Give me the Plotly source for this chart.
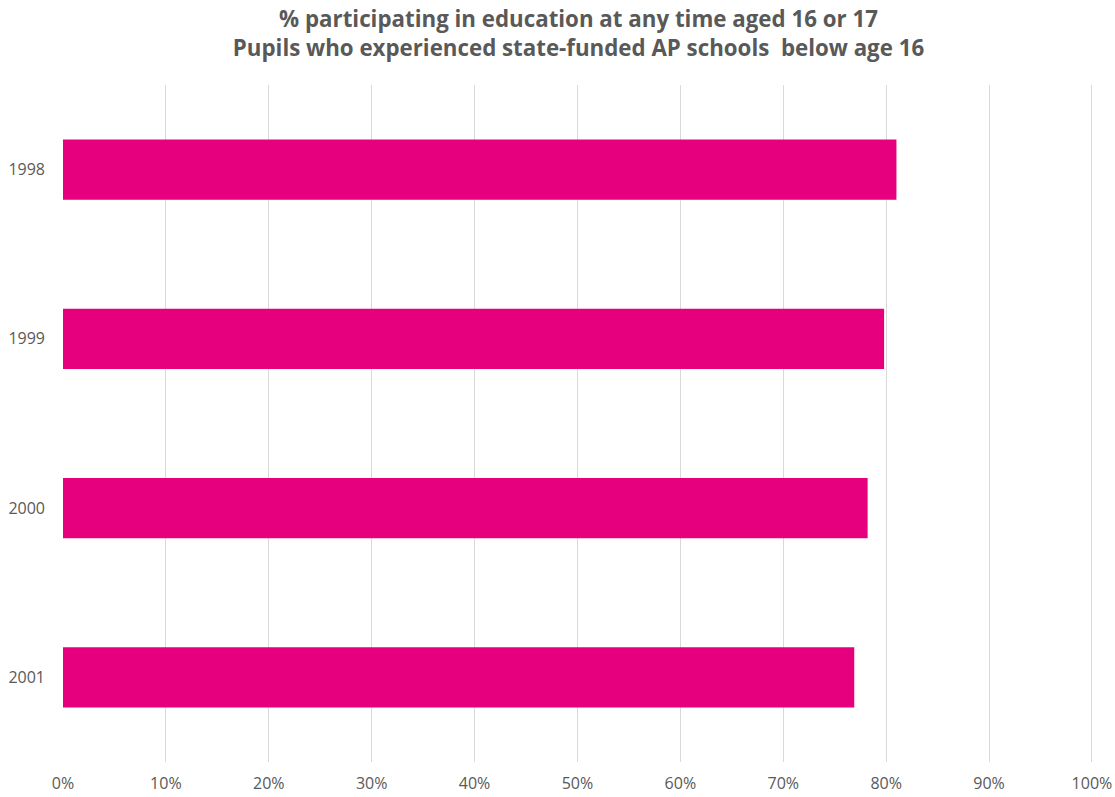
import plotly.graph_objects as go

years = ["1998", "1999", "2000", "2001"]
values = [0.810, 0.798, 0.782, 0.769]
x_ticks = [i / 10 for i in range(11)]
x_tick_labels = [f"{i*10}%" for i in range(11)]

fig = go.Figure(go.Bar(
    y=years, x=values, orientation="h",
    marker=dict(color="#E6007E", line=dict(width=0)),
    width=0.355,
))

fig.update_layout(
    width=1115, height=797,
    margin=dict(l=63, r=21, t=85, b=35, autoexpand=False),
    paper_bgcolor="white", plot_bgcolor="white",
    title=dict(
        text="% participating in education at any time aged 16 or 17<br>Pupils who experienced state-funded AP schools  below age 16",
        x=0.5, xanchor="center", xref="paper", y=0.966, yanchor="middle",
        font=dict(family="Open Sans", size=22.3, color="#595959", weight="bold"),
    ),
    font=dict(family="Open Sans", color="#595959", size=16),
    xaxis=dict(
        range=[0, 1.002], tickvals=x_ticks, ticktext=x_tick_labels,
        showgrid=True, gridcolor="#D9D9D9", gridwidth=1,
        zeroline=False, showline=False, ticks="", ticklen=0,
        tickfont=dict(size=16, color="#595959"),
        ticklabelstandoff=10, automargin=False,
    ),
    yaxis=dict(
        autorange="reversed", showgrid=False, zeroline=False,
        showline=False, ticks="", ticklabelstandoff=17,
        tickfont=dict(size=16, color="#595959"), automargin=False,
    ),
    showlegend=False,
)

fig.write_html("out.html")
